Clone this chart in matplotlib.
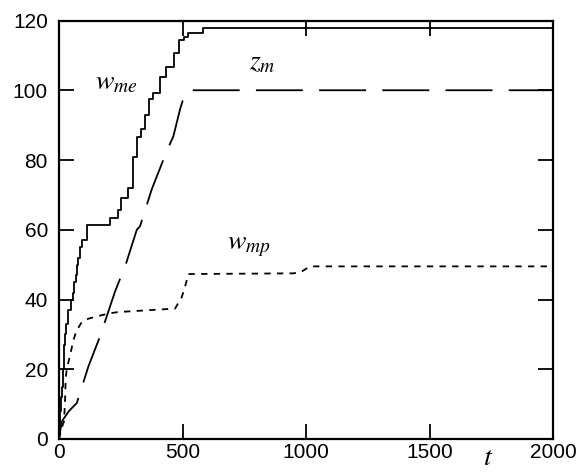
import matplotlib
matplotlib.use("Agg")
import matplotlib.pyplot as plt

# w_me (step curve)
wme_t = [0, 2, 5, 8, 12, 17, 20, 25, 30, 38, 48, 58, 62, 67, 72, 78, 85, 94, 113,
         207, 240, 250, 278, 300, 314, 333, 348, 364, 382, 409, 432, 466, 486, 506,
         524, 582, 2000]
wme_v = [0, 4, 8, 12, 15, 20, 27, 30, 33, 37, 40, 42, 45, 47, 50, 52, 55, 57, 61.3,
         63.5, 65.7, 69.2, 72, 81, 86.5, 89, 93, 97.5, 99.2, 103.8, 106.8, 110.7, 114.4,
         115.2, 116.5, 117.8, 117.8]

# z_m (dashed)
zm_t = [0, 11, 40, 72, 119, 166, 227, 270, 315, 328, 375, 436, 463, 490, 510, 530, 2000]
zm_v = [0, 5, 8, 10.3, 20.8, 29.4, 42.3, 50, 60, 61, 71.5, 82.5, 86.8, 94.5, 99.2, 100, 100]

# w_mp (dotted)
wmp_t = [0, 10, 20, 24, 27, 31, 45, 58, 72, 92, 119, 200, 240, 470, 497, 510, 524,
         949, 980, 1016, 2000]
wmp_v = [0, 3, 5, 10, 17, 20, 24, 28.3, 31.2, 33.5, 34.5, 36, 36.4, 37.4, 40.7, 43.6, 47.3,
         47.5, 47.9, 49.5, 49.5]

xticks = [0, 500, 1000, 1500, 2000]
yticks = [0, 20, 40, 60, 80, 100, 120]

plt.rcParams['mathtext.fontset'] = 'stix'

fig = plt.figure(figsize=(5.77, 4.74), dpi=100)
ax = fig.add_axes([59/577, 35/474, (553-59)/577, (439-20.5)/474])

ax.plot(wme_t, wme_v, color='black', lw=1.3, drawstyle='steps-post')
ax.plot(zm_t, zm_v, color='black', lw=1.3, dashes=(26, 9))
ax.plot(wmp_t, wmp_v, color='black', lw=1.3, dashes=(3.5, 3.5))

ax.set_xlim(0, 2000)
ax.set_ylim(0, 120)
ax.set_xticks(xticks)
ax.set_yticks(yticks)
ax.tick_params(direction='in', length=11, width=1.3, top=True, right=True,
               labelsize=15)
ax.tick_params(axis='y', pad=8)
ax.tick_params(axis='x', pad=3)
for lab in ax.get_xticklabels() + ax.get_yticklabels():
    lab.set_family('Liberation Sans')
for s in ax.spines.values():
    s.set_linewidth(1.6)

ax.text(145, 100.3, r'$w_{me}$', fontsize=20, ha='left', va='baseline')
ax.text(770, 106, r'$z_{m}$', fontsize=20, ha='left', va='baseline')
ax.text(680, 54.5, r'$w_{mp}$', fontsize=20, ha='left', va='baseline')
fig.text(488/577, 1 - 457/474, r'$t$', fontsize=20, ha='center', va='center')

fig.savefig('out.png', dpi=100)
